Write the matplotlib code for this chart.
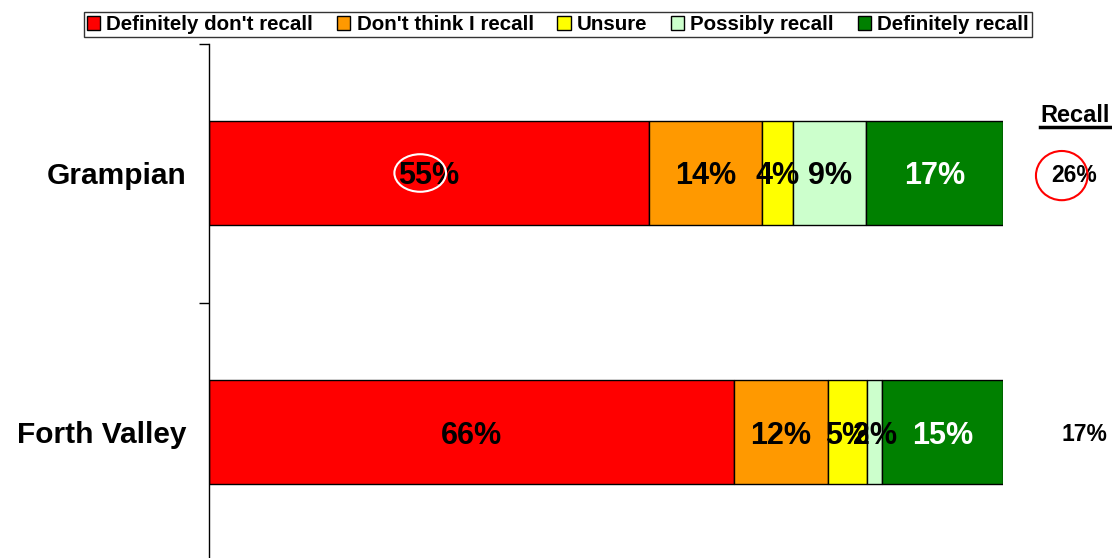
import matplotlib
matplotlib.use("Agg")
import matplotlib.pyplot as plt
from matplotlib.patches import Ellipse, Patch
from matplotlib.lines import Line2D

plt.rcParams['font.family'] = ['Liberation Sans', 'DejaVu Sans']
plt.rcParams['font.weight'] = 'bold'

regions = ["Grampian", "Forth Valley"]
answers = ["Definitely don't recall", "Don't think I recall", "Unsure",
           "Possibly recall", "Definitely recall"]
colours = ["#FF0000", "#FF9900", "#FFFF00", "#CCFFCC", "#008000"]
text_colours = ["black", "black", "black", "black", "white"]

# share of respondents per answer, one list per region
shares = [
    [55.4, 14.3, 3.9, 9.1, 17.3],
    [66.1, 11.8, 5.0, 1.9, 15.2],
]
recall = [26, 17]

fig = plt.figure(figsize=(11.12, 5.58), dpi=100)
W, H = 1112, 558
ax = fig.add_axes([209 / W, (H - 43.5 - 518) / H, (1003 - 209) / W, 518 / H])

for i, row in enumerate(shares):
    left = 0
    for j, v in enumerate(row):
        ax.barh(i, v, left=left, height=0.40, color=colours[j],
                edgecolor="black", linewidth=1, zorder=2)
        ax.text(left + v / 2, i, f"{v:.0f}%", ha="center", va="center_baseline",
                fontsize=22, fontweight="bold", color=text_colours[j], zorder=3)
        left += v

ax.set_xlim(0, 100)
ax.set_ylim(1.5, -0.5)
ax.set_yticks(range(len(regions)))
ax.set_yticklabels(regions, fontsize=21.5, fontweight="bold", va="center_baseline")
ax.tick_params(axis="y", which="major", length=0, pad=16)
ax.set_yticks([-0.5, 0.5], minor=True)
ax.tick_params(axis="y", which="minor", length=7, direction="out", width=1)
ax.set_xticks([])
for s in ["top", "right", "bottom"]:
    ax.spines[s].set_visible(False)
ax.spines["left"].set_linewidth(1)

# recall column on the right
recall_x = [108.9, 110.3]
for i, r in enumerate(recall):
    ax.text(recall_x[i], i, f"{r}%", ha="center", va="center_baseline",
            fontsize=16.5, fontweight="bold", clip_on=False)
fig.text(1075 / W, 1 - 115 / H, "Recall", ha="center", va="center",
         fontsize=17, fontweight="bold")
fig.add_artist(Line2D([1040 / W, 1110 / W], [1 - 127 / H, 1 - 127 / H],
                      color="black", linewidth=2.5))

# highlight rings
ax.add_patch(Ellipse((26.6, 0.0), 6.5, 0.145, fill=False, edgecolor="white",
                     linewidth=1.5, zorder=4))
ax.add_patch(Ellipse((107.4, 0.01), 6.5, 0.19, fill=False, edgecolor="#FF0000",
                     linewidth=1.5, zorder=4, clip_on=False))

handles = [Patch(facecolor=c, edgecolor="black", linewidth=1) for c in colours]
leg = fig.legend(handles, answers, loc="upper center", ncol=5,
                 bbox_to_anchor=(558 / W, 1 - 12 / H), fontsize=14.8,
                 frameon=True, fancybox=False, edgecolor="black",
                 handlelength=0.65, handleheight=0.65, handletextpad=0.3,
                 columnspacing=1.15, borderpad=0.15, borderaxespad=0)
leg.get_frame().set_linewidth(1)
for t in leg.get_texts():
    t.set_fontweight("bold")

fig.savefig("out.png", dpi=100)
